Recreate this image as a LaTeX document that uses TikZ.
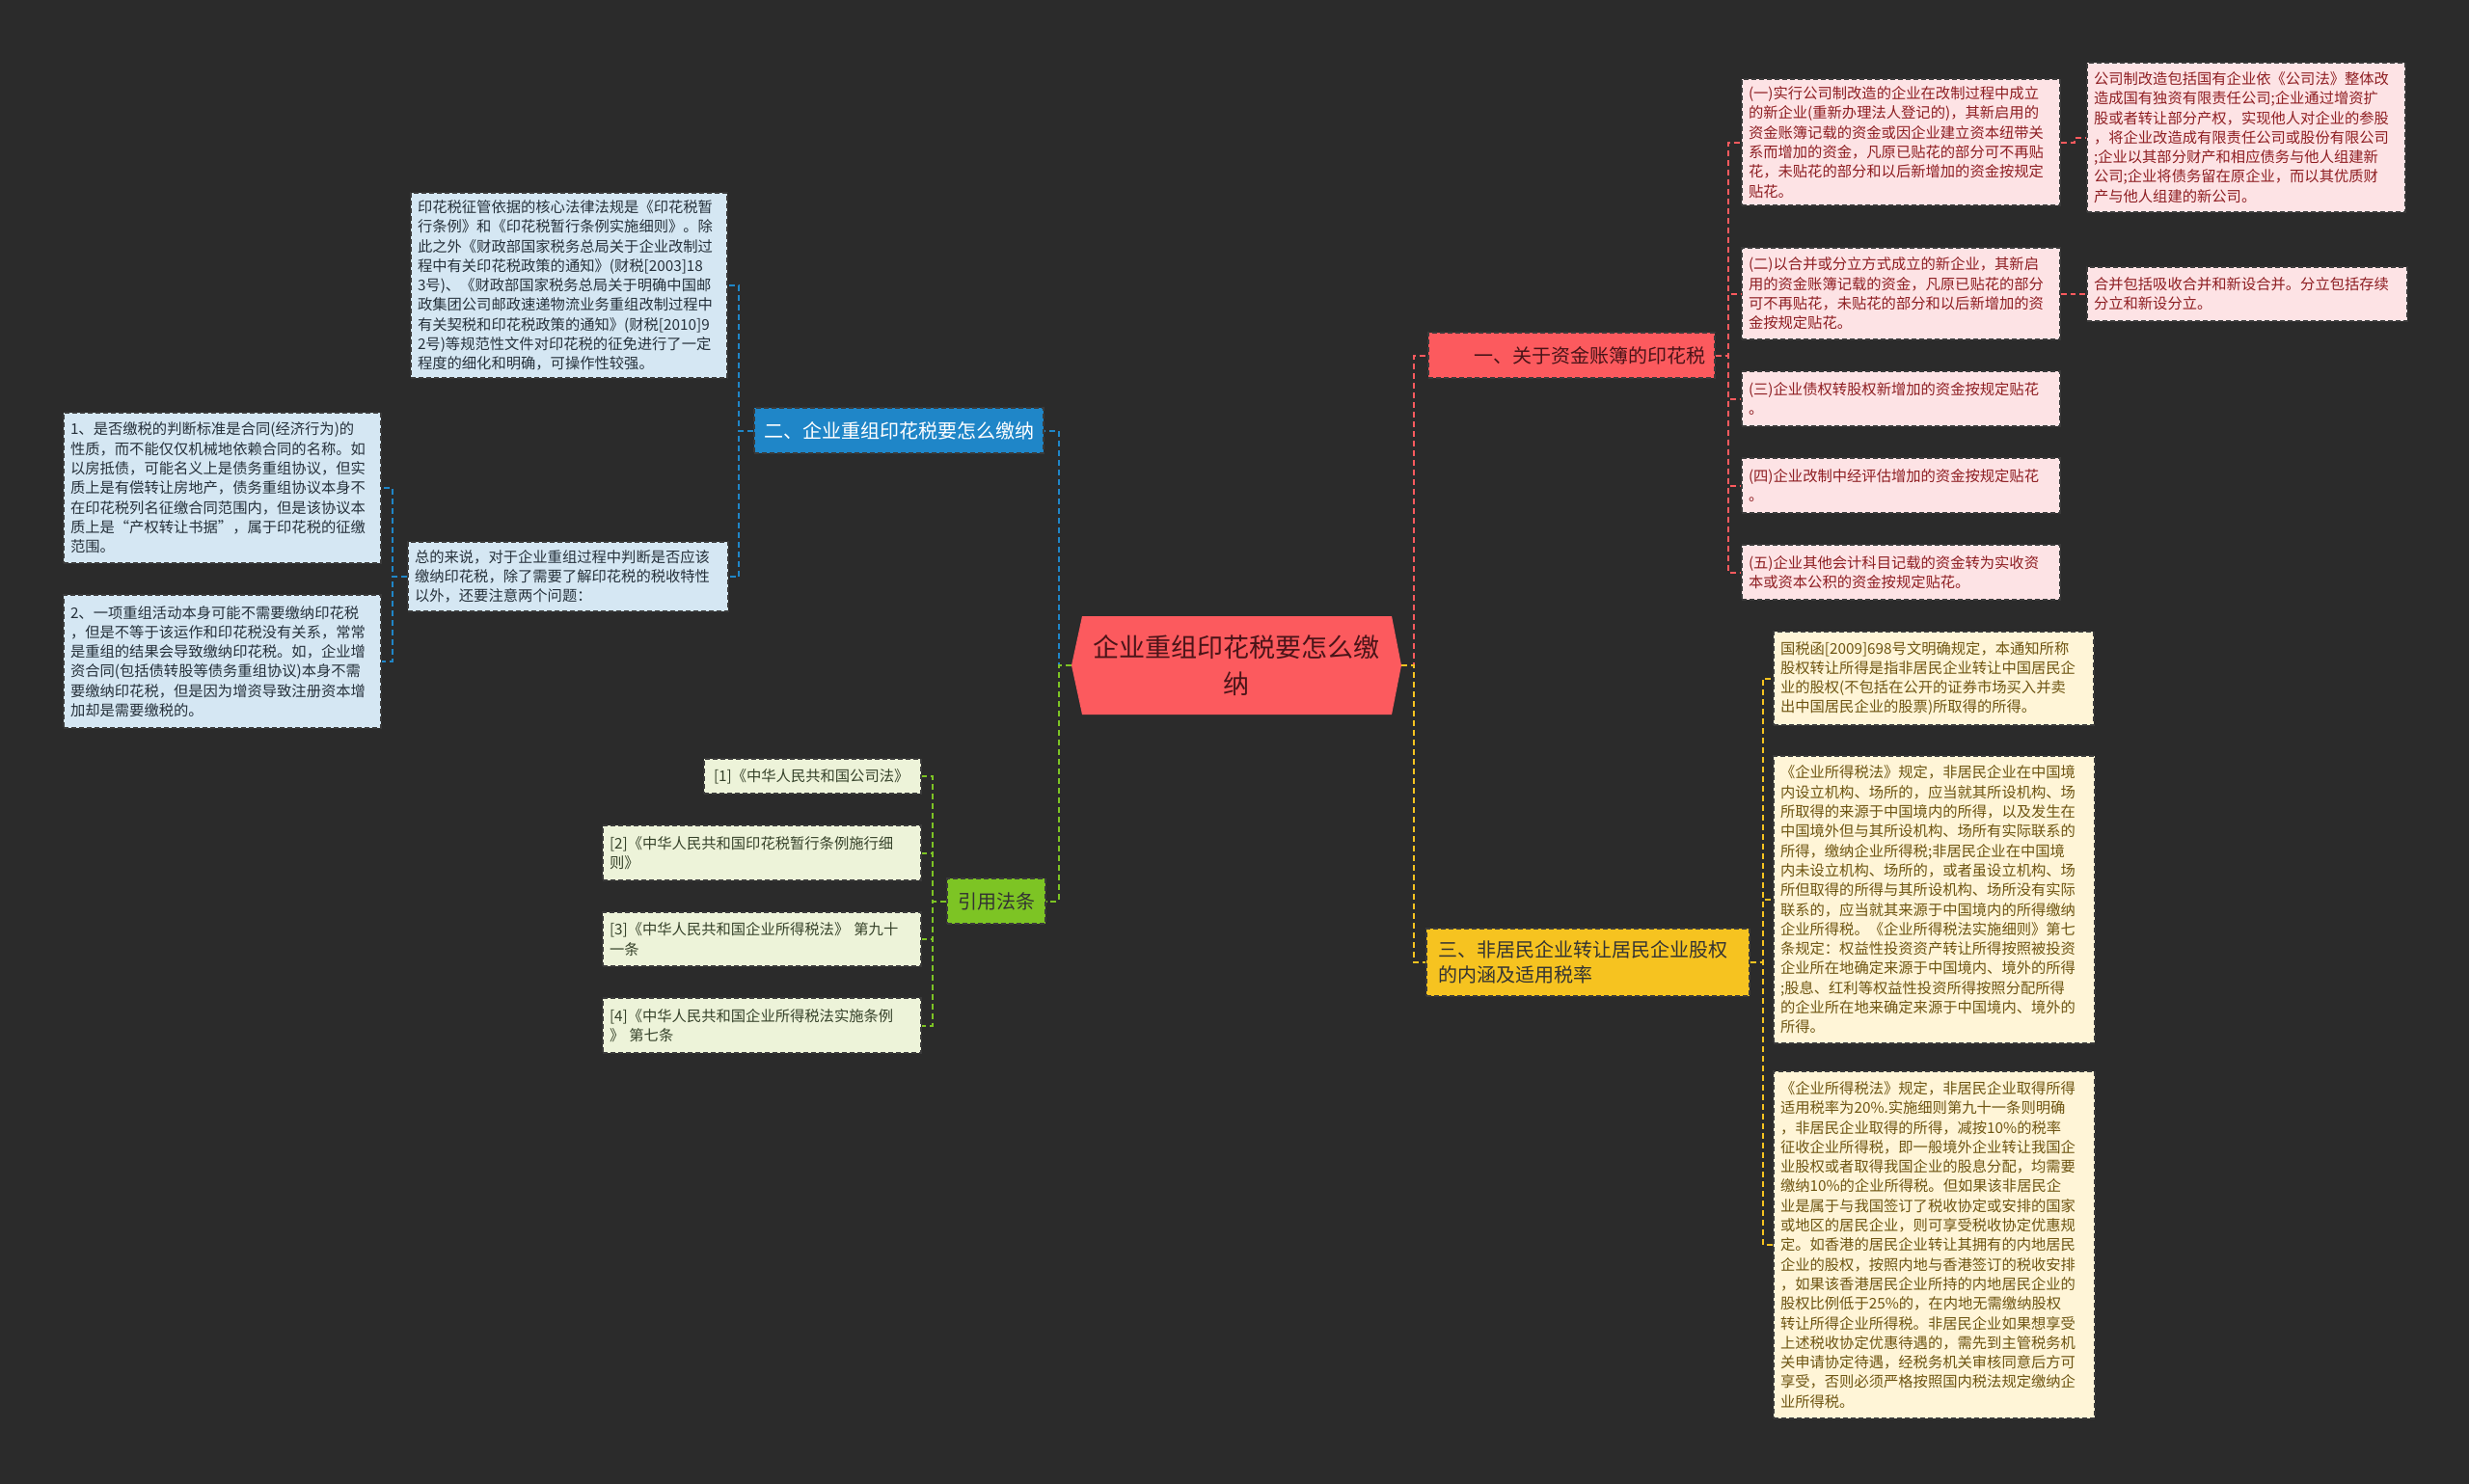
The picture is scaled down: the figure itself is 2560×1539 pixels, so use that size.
\documentclass[tikz,border=0pt]{standalone}
\usepackage{fontspec}
\setmainfont{Noto Sans CJK SC}
\definecolor{bg}{HTML}{2B2B2B}
\definecolor{redm}{HTML}{FC5A5E}
\definecolor{bluem}{HTML}{1F86C8}
\definecolor{yellowm}{HTML}{F6C320}
\definecolor{greenm}{HTML}{7DC424}
\definecolor{pinkfill}{HTML}{FDE3E5}
\definecolor{pinktext}{HTML}{8E1E22}
\definecolor{bluefill}{HTML}{D5E7F3}
\definecolor{bluetext}{HTML}{26313B}
\definecolor{yelfill}{HTML}{FFF5D7}
\definecolor{yeltext}{HTML}{6E5512}
\definecolor{grnfill}{HTML}{EDF3D9}
\definecolor{grntext}{HTML}{36422A}
\definecolor{rootink}{HTML}{4A1418}
\definecolor{boxborder}{HTML}{3A3A3A}
\tikzset{
  box/.style={rectangle, draw=boxborder, dash pattern=on 5pt off 3pt, line width=1.3pt,
    inner xsep=7pt, inner ysep=3pt, align=left,
    font=\fontsize{15.3pt}{20.3pt}\selectfont},
  pinkbox/.style={box, fill=pinkfill, text=pinktext},
  bluebox/.style={box, fill=bluefill, text=bluetext},
  yelbox/.style={box, fill=yelfill, text=yeltext},
  grnbox/.style={box, fill=grnfill, text=grntext},
  branchbox/.style={rectangle, draw=boxborder, dash pattern=on 5pt off 3pt, line width=1.3pt,
    inner ysep=3pt, font=\fontsize{20pt}{26pt}\selectfont},
  link/.style={line width=2pt, dash pattern=on 6pt off 4pt},
  redlink/.style={link, draw=redm},
  bluelink/.style={link, draw=bluem},
  yellink/.style={link, draw=yellowm},
  grnlink/.style={link, draw=greenm}
}
\begin{document}
\begin{tikzpicture}[x=1pt,y=-1pt]
\fill[bg] (0,0) rectangle (2560,1539);
\useasboundingbox (0,0) rectangle (2560,1539);

% root
\fill[redm] (1122,639) -- (1443,639) -- (1453,690) -- (1443,741) -- (1122,741) -- (1111,690) -- cycle;
\node[minimum width=342pt, minimum height=102pt, inner sep=0pt, align=center, text=rootink,
  font=\fontsize{27pt}{37.5pt}\selectfont] (root) at (1282,690) {企业重组印花税要怎么缴\\纳};

% branches
\node[branchbox, fill=redm, text=rootink, text width=277pt, inner xsep=10pt, align=right,
  minimum height=47pt] (b1) at (1629.5,368.5) {一、关于资金账簿的印花税};
\node[branchbox, fill=bluem, text=white, text width=284pt, inner xsep=8pt, align=center,
  minimum height=47pt] (b2) at (932,446.5) {二、企业重组印花税要怎么缴纳};
\node[branchbox, fill=yellowm, text=black!80, text width=311pt, inner xsep=12pt, align=left,
  minimum height=70pt] (b3) at (1646.5,998) {三、非居民企业转让居民企业股权\\的内涵及适用税率};
\node[branchbox, fill=greenm, text=black!80, text width=86pt, inner xsep=8pt, align=center,
  minimum height=47pt] (b4) at (1033,934.5) {引用法条};

% pink boxes
\node[pinkbox, text width=316pt, minimum height=131pt] (p1) at (1971,147.5) {(一)实行公司制改造的企业在改制过程中成立\\的新企业(重新办理法人登记的)，其新启用的\\资金账簿记载的资金或因企业建立资本纽带关\\系而增加的资金，凡原已贴花的部分可不再贴\\花，未贴花的部分和以后新增加的资金按规定\\贴花。};
\node[pinkbox, text width=316pt, minimum height=155pt] (p1a) at (2329,142.5) {公司制改造包括国有企业依《公司法》整体改\\造成国有独资有限责任公司;企业通过增资扩\\股或者转让部分产权，实现他人对企业的参股\\，将企业改造成有限责任公司或股份有限公司\\;企业以其部分财产和相应债务与他人组建新\\公司;企业将债务留在原企业，而以其优质财\\产与他人组建的新公司。};
\node[pinkbox, text width=316pt, minimum height=95pt] (p2) at (1971,304.5) {(二)以合并或分立方式成立的新企业，其新启\\用的资金账簿记载的资金，凡原已贴花的部分\\可不再贴花，未贴花的部分和以后新增加的资\\金按规定贴花。};
\node[pinkbox, text width=318pt, minimum height=56pt] (p2a) at (2330,305) {合并包括吸收合并和新设合并。分立包括存续\\分立和新设分立。};
\node[pinkbox, text width=316pt, minimum height=57pt] (p3) at (1971,413.5) {(三)企业债权转股权新增加的资金按规定贴花\\。};
\node[pinkbox, text width=316pt, minimum height=57pt] (p4) at (1971,503.5) {(四)企业改制中经评估增加的资金按规定贴花\\。};
\node[pinkbox, text width=316pt, minimum height=57pt] (p5) at (1971,593.5) {(五)企业其他会计科目记载的资金转为实收资\\本或资本公积的资金按规定贴花。};

% blue boxes
\node[bluebox, text width=314pt, minimum height=192pt] (q1) at (590,296) {印花税征管依据的核心法律法规是《印花税暂\\行条例》和《印花税暂行条例实施细则》。除\\此之外《财政部国家税务总局关于企业改制过\\程中有关印花税政策的通知》(财税[2003]18\\3号)、《财政部国家税务总局关于明确中国邮\\政集团公司邮政速递物流业务重组改制过程中\\有关契税和印花税政策的通知》(财税[2010]9\\2号)等规范性文件对印花税的征免进行了一定\\程度的细化和明确，可操作性较强。};
\node[bluebox, text width=318pt, minimum height=72pt] (q2) at (589,598) {总的来说，对于企业重组过程中判断是否应该\\缴纳印花税，除了需要了解印花税的税收特性\\以外，还要注意两个问题：};
\node[bluebox, text width=315pt, minimum height=156pt] (q2a) at (230.5,506) {1、是否缴税的判断标准是合同(经济行为)的\\性质，而不能仅仅机械地依赖合同的名称。如\\以房抵债，可能名义上是债务重组协议，但实\\质上是有偿转让房地产，债务重组协议本身不\\在印花税列名征缴合同范围内，但是该协议本\\质上是“产权转让书据”，属于印花税的征缴\\范围。};
\node[bluebox, text width=315pt, minimum height=138pt] (q2b) at (230.5,686) {2、一项重组活动本身可能不需要缴纳印花税\\，但是不等于该运作和印花税没有关系，常常\\是重组的结果会导致缴纳印花税。如，企业增\\资合同(包括债转股等债务重组协议)本身不需\\要缴纳印花税，但是因为增资导致注册资本增\\加却是需要缴税的。};

% yellow boxes
\node[yelbox, text width=318pt, minimum height=97pt] (y1) at (2005,703.5) {国税函[2009]698号文明确规定，本通知所称\\股权转让所得是指非居民企业转让中国居民企\\业的股权(不包括在公开的证券市场买入并卖\\出中国居民企业的股票)所取得的所得。};
\node[yelbox, text width=319pt, minimum height=298pt] (y2) at (2005.5,933) {《企业所得税法》规定，非居民企业在中国境\\内设立机构、场所的，应当就其所设机构、场\\所取得的来源于中国境内的所得，以及发生在\\中国境外但与其所设机构、场所有实际联系的\\所得，缴纳企业所得税;非居民企业在中国境\\内未设立机构、场所的，或者虽设立机构、场\\所但取得的所得与其所设机构、场所没有实际\\联系的，应当就其来源于中国境内的所得缴纳\\企业所得税。《企业所得税法实施细则》第七\\条规定：权益性投资资产转让所得按照被投资\\企业所在地确定来源于中国境内、境外的所得\\;股息、红利等权益性投资所得按照分配所得\\的企业所在地来确定来源于中国境内、境外的\\所得。};
\node[yelbox, text width=319pt, minimum height=360pt] (y3) at (2005.5,1291) {《企业所得税法》规定，非居民企业取得所得\\适用税率为20\%.实施细则第九十一条则明确\\，非居民企业取得的所得，减按10\%的税率\\征收企业所得税，即一般境外企业转让我国企\\业股权或者取得我国企业的股息分配，均需要\\缴纳10\%的企业所得税。但如果该非居民企\\业是属于与我国签订了税收协定或安排的国家\\或地区的居民企业，则可享受税收协定优惠规\\定。如香港的居民企业转让其拥有的内地居民\\企业的股权，按照内地与香港签订的税收安排\\，如果该香港居民企业所持的内地居民企业的\\股权比例低于25\%的，在内地无需缴纳股权\\转让所得企业所得税。非居民企业如果想享受\\上述税收协定优惠待遇的，需先到主管税务机\\关申请协定待遇，经税务机关审核同意后方可\\享受，否则必须严格按照国内税法规定缴纳企\\业所得税。};

% green boxes
\node[grnbox, text width=205pt, inner xsep=10pt, minimum height=36pt] (g1) at (842.5,805) {[1]《中华人民共和国公司法》};
\node[grnbox, text width=316pt, minimum height=57pt] (g2) at (790,884.5) {[2]《中华人民共和国印花税暂行条例施行细\\则》};
\node[grnbox, text width=316pt, minimum height=56pt] (g3) at (790,974) {[3]《中华人民共和国企业所得税法》 第九十\\一条};
\node[grnbox, text width=316pt, minimum height=57pt] (g4) at (790,1063.5) {[4]《中华人民共和国企业所得税法实施条例\\》 第七条};

% connectors root -> branches
\draw[redlink] (root.east) -- ++(13,0) |- (b1.west);
\draw[yellink] (root.east) -- ++(13,0) |- (b3.west);
\draw[bluelink] (root.west) -- ++(-13,0) |- (b2.east);
\draw[grnlink] (root.west) -- ++(-13,0) |- (b4.east);

% branch 1
\foreach \c in {p1,p2,p3,p4,p5}
  \draw[redlink] (b1.east) -- ++(13,0) |- (\c.west);
\draw[redlink] (p1.east) -- ++(14,0) |- (p1a.west);
\draw[redlink] (p2.east) -- ++(14,0) |- (p2a.west);

% branch 2
\foreach \c in {q1,q2}
  \draw[bluelink] (b2.west) -- ++(-15,0) |- (\c.east);
\foreach \c in {q2a,q2b}
  \draw[bluelink] (q2.west) -- ++(-15,0) |- (\c.east);

% branch 3
\foreach \c in {y1,y2,y3}
  \draw[yellink] (b3.east) -- ++(13,0) |- (\c.west);

% branch 4
\foreach \c in {g1,g2,g3,g4}
  \draw[grnlink] (b4.west) -- ++(-14,0) |- (\c.east);
\end{tikzpicture}
\end{document}
